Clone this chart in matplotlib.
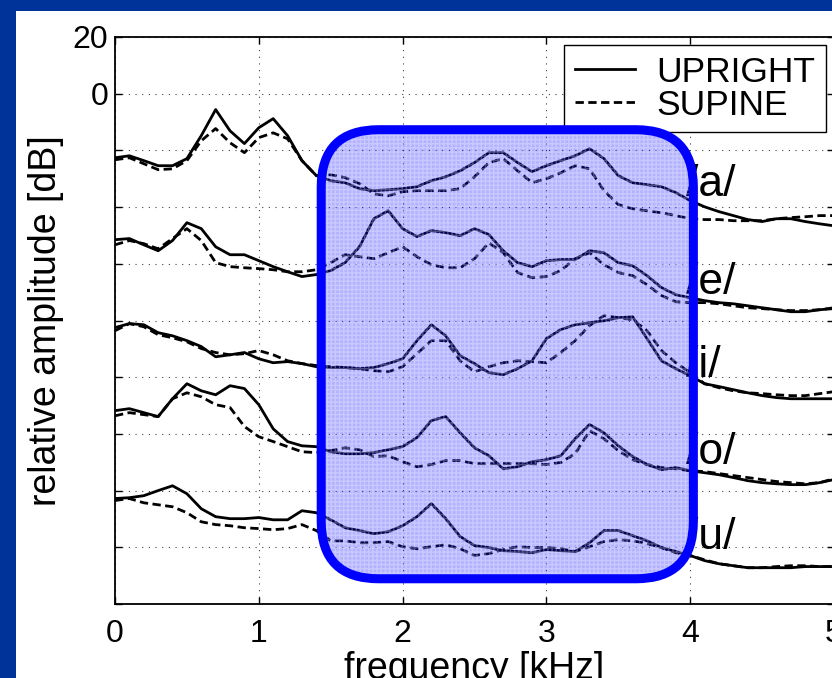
import numpy as np
import matplotlib.pyplot as plt
from matplotlib.patches import FancyBboxPatch, Rectangle

plt.rcParams['font.family'] = ['Liberation Sans', 'DejaVu Sans']

# frequency grid (kHz), 0.1 kHz steps
freq = np.linspace(0, 5, 51)

# relative amplitude (dB), vowels offset by the authors
a_up = [-22.6, -21.9, -23.6, -25.4, -25.4, -22.9, -14.8, -5.6, -13.1, -17.6, -12.0,
        -8.8, -14.8, -23.6, -28.9, -30.7, -31.4, -33.5, -34.2, -33.9, -33.5,
        -32.8, -30.7, -29.3, -27.2, -24.3, -20.8, -20.8, -24.3, -27.5, -25.4,
        -23.6, -21.9, -19.4, -22.9, -28.9, -31.4, -32.1, -32.8, -34.9, -37.7,
        -39.9, -41.6, -43.0, -44.4, -45.1, -44.1, -44.1, -45.1, -45.9, -46.6]
a_sup = [-23.3, -22.6, -24.7, -26.8, -26.5, -23.6, -16.6, -12.3, -17.3, -20.8, -15.5,
         -13.8, -15.9, -23.6, -28.9, -28.6, -29.6, -31.7, -35.3, -36.0, -34.6,
         -34.2, -34.2, -34.2, -33.5, -29.3, -24.3, -22.9, -27.2, -31.4, -30.0,
         -27.9, -25.4, -26.5, -34.2, -39.1, -40.6, -41.3, -42.0, -43.0, -44.1,
         -44.4, -44.4, -44.8, -44.8, -44.8, -44.1, -43.7, -43.4, -43.0, -43.0]
e_up = [-51.5, -51.1, -53.3, -55.4, -51.8, -45.5, -47.6, -54.0, -56.8, -56.8, -58.9,
        -61.0, -62.8, -64.5, -63.8, -62.4, -59.6, -54.0, -44.1, -41.3, -47.6,
        -50.4, -48.3, -49.0, -50.1, -47.6, -49.7, -55.4, -59.6, -61.0, -58.9,
        -58.5, -58.5, -55.4, -56.1, -59.6, -60.7, -64.2, -68.4, -70.9, -72.0,
        -73.0, -73.7, -74.1, -74.8, -75.5, -76.2, -76.9, -76.9, -76.2, -75.8]
e_sup = [-53.3, -51.8, -52.9, -54.7, -51.1, -47.6, -51.8, -59.6, -61.0, -61.4, -61.7,
         -62.1, -62.8, -62.8, -62.1, -59.6, -56.8, -57.5, -58.2, -56.1, -54.0,
         -57.5, -60.3, -61.4, -61.4, -58.2, -52.6, -56.1, -63.1, -64.9, -64.5,
         -62.4, -58.2, -56.1, -60.3, -63.1, -64.2, -67.4, -71.2, -73.4, -73.7,
         -73.7, -74.1, -74.8, -75.5, -75.8, -76.2, -76.5, -76.5, -76.2, -75.5]
i_up = [-82.5, -81.1, -81.5, -84.3, -85.4, -87.1, -89.2, -92.8, -92.1, -91.3, -93.5,
        -94.9, -94.5, -95.2, -96.3, -96.6, -96.6, -97.0, -96.6, -95.2, -93.5,
        -87.1, -81.5, -85.4, -92.4, -95.2, -98.4, -99.1, -97.0, -94.2, -86.4,
        -83.2, -81.5, -80.8, -80.1, -79.0, -78.7, -86.4, -94.2, -97.0, -99.5,
        -102.3, -103.3, -104.4, -105.5, -106.5, -107.2, -107.6, -107.6, -107.6, -107.6]
i_sup = [-83.6, -81.1, -82.2, -85.0, -86.1, -87.5, -89.9, -91.3, -92.1, -91.7, -90.6,
         -92.1, -94.2, -95.2, -95.9, -96.3, -96.6, -97.0, -97.7, -98.1, -96.3,
         -91.7, -87.1, -87.1, -94.2, -98.1, -96.3, -94.9, -94.2, -94.5, -94.9,
         -91.3, -87.1, -81.8, -78.3, -79.0, -79.7, -83.6, -90.6, -94.9, -98.4,
         -102.3, -103.7, -104.8, -105.5, -105.8, -106.2, -106.5, -106.5, -105.8, -105.1]
o_up = [-111.8, -111.1, -112.5, -113.9, -107.6, -102.3, -104.8, -106.2, -103.0, -104.0, -109.7,
        -118.2, -122.7, -124.2, -124.5, -126.3, -127.0, -127.0, -126.6, -125.6, -124.5,
        -121.3, -115.3, -113.9, -119.6, -124.9, -127.7, -132.3, -131.6, -129.8, -129.1,
        -127.7, -121.7, -116.7, -119.6, -124.2, -128.0, -130.8, -132.6, -131.9, -133.0,
        -133.7, -134.4, -135.4, -136.5, -137.2, -137.6, -137.9, -137.9, -137.2, -136.1]
o_sup = [-113.6, -112.5, -113.2, -113.9, -107.6, -105.5, -106.9, -109.7, -110.7, -117.4, -121.0,
         -122.7, -124.5, -126.3, -126.6, -125.9, -124.9, -125.6, -128.0, -127.7, -129.8,
         -131.6, -130.8, -129.4, -129.4, -130.5, -130.5, -130.5, -130.5, -130.5, -130.8,
         -130.1, -127.0, -118.9, -121.7, -125.9, -129.1, -130.8, -131.9, -132.3, -133.0,
         -133.3, -134.0, -134.7, -135.4, -136.1, -136.8, -137.2, -137.6, -137.2, -135.8]
u_up = [-142.8, -142.5, -141.8, -140.0, -138.3, -141.1, -146.4, -149.2, -149.9, -149.9, -149.5,
        -150.3, -150.3, -147.1, -147.8, -150.3, -153.1, -154.1, -155.2, -154.5, -152.4,
        -149.2, -144.6, -149.9, -156.2, -159.4, -160.1, -161.2, -161.5, -161.9, -160.8,
        -161.2, -161.5, -158.4, -154.1, -154.1, -155.9, -157.7, -160.1, -161.5, -162.9,
        -164.7, -165.8, -166.5, -167.2, -167.2, -167.2, -167.2, -166.8, -166.8, -166.8]
u_sup = [-143.5, -142.8, -144.3, -145.0, -145.7, -147.8, -151.0, -152.0, -152.4, -153.1, -153.4,
         -153.8, -153.4, -152.0, -154.1, -157.7, -157.7, -158.4, -158.4, -158.0, -159.8,
         -160.5, -159.8, -159.1, -160.5, -162.9, -162.2, -160.8, -159.8, -160.1, -160.1,
         -160.5, -161.5, -159.8, -158.0, -157.3, -157.7, -158.7, -160.1, -161.9, -162.9,
         -164.4, -165.8, -166.5, -167.2, -167.2, -166.8, -166.5, -166.5, -166.8, -166.8]

upright = [a_up, e_up, i_up, o_up, u_up]
supine = [a_sup, e_sup, i_sup, o_sup, u_sup]
vowels = ['/a/', '/e/', '/i/', '/o/', '/u/']
vowel_y = [-36, -70.5, -100, -130.5, -160.5]

yticks = list(range(20, -181, -20))
ytick_labels = ['20', '0'] + [''] * (len(yticks) - 2)

# highlighted band (kHz, dB)
box_x0, box_x1 = 1.434, 4.022
box_y0, box_y1 = -171.1, -12.7

fig = plt.figure(figsize=(8.32, 6.78), dpi=100, facecolor='#003399')
fig.patches.append(Rectangle((16 / 832, 0), 1, 667 / 678, transform=fig.transFigure,
                             facecolor='white', edgecolor='none', zorder=-10))

ax = fig.add_axes([115 / 832, 74 / 678, 719 / 832, 567 / 678])

for k in range(5):
    ax.plot(freq, upright[k], color='k', lw=2.0, label='UPRIGHT' if k == 0 else None)
    ax.plot(freq, supine[k], color='k', lw=2.0, linestyle=(0, (3, 1.6)),
            label='SUPINE' if k == 0 else None)
    ax.text(3.97, vowel_y[k], vowels[k], fontsize=32, ha='left', va='baseline', zorder=3)

ax.set_xlim(0, 5)
ax.set_ylim(-180, 20)
ax.set_xticks([0, 1, 2, 3, 4, 5])
ax.set_yticks(yticks)
ax.set_yticklabels(ytick_labels)
ax.tick_params(direction='in', length=5, width=1, top=True, right=True, labelsize=23)
ax.tick_params(axis='x', pad=11)
ax.tick_params(axis='y', pad=5)
for s in ax.spines.values():
    s.set_linewidth(1.3)
ax.grid(True, color='0.25', linestyle=(0, (1, 5)), linewidth=0.8)

ax.set_xlabel('frequency [kHz]', fontsize=27, labelpad=1)
ax.set_ylabel('relative amplitude [dB]', fontsize=27, labelpad=6)

leg = ax.legend(loc='upper right', bbox_to_anchor=(0.989, 0.986), borderaxespad=0,
                fontsize=25.5, fancybox=False, edgecolor='k', framealpha=1,
                handlelength=1.7, handletextpad=0.6, labelspacing=0.0, borderpad=0.3)
leg.get_frame().set_linewidth(1.0)

aspect = 143.7 / 2.835
fill = FancyBboxPatch((box_x0, box_y0), box_x1 - box_x0, box_y1 - box_y0,
                      boxstyle='round,pad=0,rounding_size=0.4', mutation_aspect=aspect,
                      facecolor=(0, 0, 1, 0.3), edgecolor=(1, 1, 1, 0.3), hatch='++++',
                      linewidth=0, zorder=6)
ax.add_patch(fill)
rim = FancyBboxPatch((box_x0, box_y0), box_x1 - box_x0, box_y1 - box_y0,
                     boxstyle='round,pad=0,rounding_size=0.4', mutation_aspect=aspect,
                     facecolor='none', edgecolor='#0000ff', linewidth=6.5, zorder=7)
ax.add_patch(rim)

fig.savefig('out.png', dpi=100, facecolor=fig.get_facecolor())
